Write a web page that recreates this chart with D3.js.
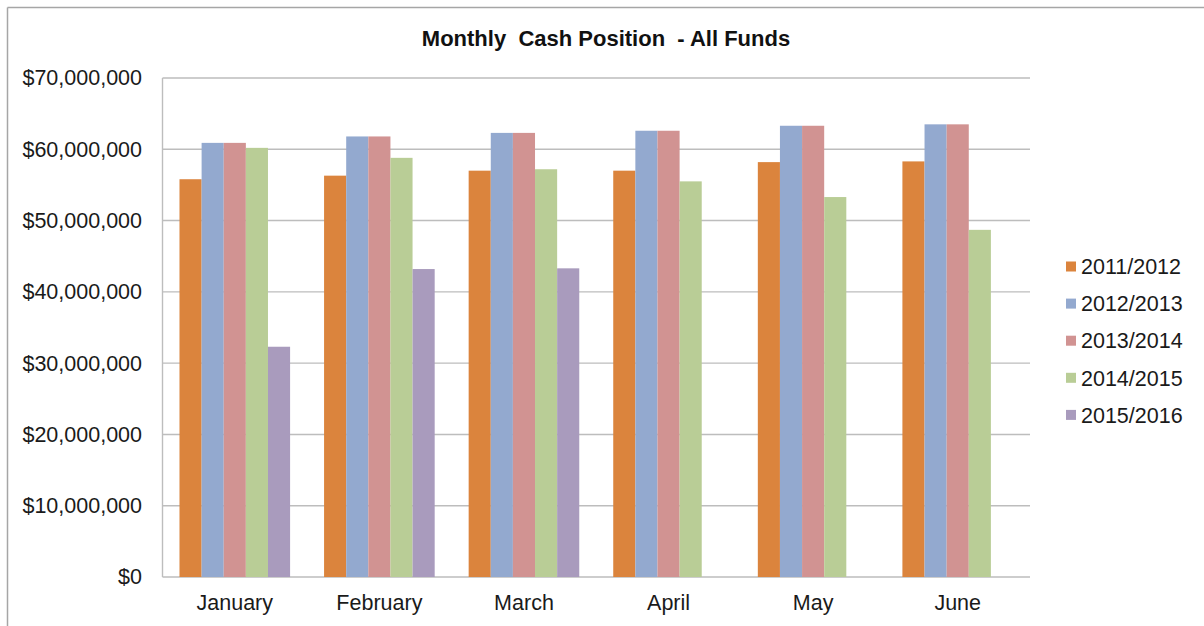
<!DOCTYPE html>
<html>
<head>
<meta charset="utf-8">
<script src="https://cdn.jsdelivr.net/npm/d3@7"></script>
<style>
  html, body { margin: 0; padding: 0; background: #fff; }
  svg { display: block; font-family: "Liberation Sans", Arial, sans-serif; }
</style>
</head>
<body>
<svg id="chart" width="1204" height="626"></svg>
<script>
const title = "Monthly  Cash Position  - All Funds";
const months = ["January", "February", "March", "April", "May", "June"];
const seriesNames = ["2011/2012", "2012/2013", "2013/2014", "2014/2015", "2015/2016"];
const seriesColors = ["#DB843D", "#93A9CF", "#D19392", "#B9CD96", "#A99BBD"];
const s2011 = [55800000, 56300000, 57000000, 57000000, 58200000, 58300000];
const s2012 = [60900000, 61800000, 62300000, 62600000, 63300000, 63500000];
const s2013 = [60900000, 61800000, 62300000, 62600000, 63300000, 63500000];
const s2014 = [60200000, 58800000, 57200000, 55500000, 53300000, 48700000];
const s2015 = [32300000, 43200000, 43300000, null, null, null];
const yTicks = [0, 10000000, 20000000, 30000000, 40000000, 50000000, 60000000, 70000000];

const seriesValues = [s2011, s2012, s2013, s2014, s2015];

const svg = d3.select("#chart");
const plot = { left: 162.5, right: 1030, top: 78, bottom: 577 };

// frame
svg.append("line").attr("x1", 7.5).attr("x2", 1204).attr("y1", 7.5).attr("y2", 7.5)
  .attr("stroke", "#a6a6a6").attr("stroke-width", 1.5);
svg.append("line").attr("x1", 7.5).attr("x2", 7.5).attr("y1", 7.5).attr("y2", 626)
  .attr("stroke", "#a6a6a6").attr("stroke-width", 1.5);

const x0 = d3.scaleBand().domain(months).range([plot.left, plot.right])
  .paddingInner(0.235).paddingOuter(0.1175);
const x1 = d3.scaleBand().domain(seriesNames).range([0, x0.bandwidth()]);
const y = d3.scaleLinear().domain([0, 70000000]).range([plot.bottom, plot.top]);

// gridlines
svg.append("g").selectAll("line").data(yTicks).join("line")
  .attr("x1", plot.left).attr("x2", plot.right)
  .attr("y1", d => y(d)).attr("y2", d => y(d))
  .attr("stroke", "#bdbdbd").attr("stroke-width", 1.4);

// left axis line
svg.append("line").attr("x1", plot.left).attr("x2", plot.left)
  .attr("y1", plot.top).attr("y2", plot.bottom)
  .attr("stroke", "#bdbdbd").attr("stroke-width", 1.4);

// bars
const data = [];
months.forEach((m, i) => {
  seriesNames.forEach((s, j) => {
    const v = seriesValues[j][i];
    if (v != null) data.push({ m, s, v, c: seriesColors[j] });
  });
});
svg.append("g").selectAll("rect").data(data).join("rect")
  .attr("x", d => x0(d.m) + x1(d.s))
  .attr("width", x1.bandwidth())
  .attr("y", d => y(d.v))
  .attr("height", d => y(0) - y(d.v))
  .attr("fill", d => d.c);

// y axis labels
const yAxis = d3.axisLeft(y).tickValues(yTicks).tickSize(0).tickPadding(0)
  .tickFormat(d => "$" + d3.format(",")(d));
const gy = svg.append("g").attr("transform", `translate(142,0)`).call(yAxis);
gy.select(".domain").remove();
gy.selectAll("text").attr("font-size", "21.5px").attr("fill", "#1a1a1a")
  .attr("font-family", "'Liberation Sans', Arial, sans-serif");

// x axis labels
const xAxis = d3.axisBottom(x0).tickSize(0).tickPadding(0);
const gx = svg.append("g").attr("transform", `translate(0,${plot.bottom})`).call(xAxis);
gx.select(".domain").remove();
gx.selectAll("text").attr("font-size", "21.5px").attr("fill", "#1a1a1a")
  .attr("dy", null).attr("y", 33)
  .attr("font-family", "'Liberation Sans', Arial, sans-serif");

// title
svg.append("text").attr("x", 606).attr("y", 46).attr("text-anchor", "middle")
  .attr("font-size", "22px").attr("font-weight", "bold").attr("fill", "#111")
  .attr("xml:space", "preserve").style("white-space", "pre")
  .text(title);

// legend
const legend = svg.append("g").selectAll("g").data(seriesNames).join("g")
  .attr("transform", (d, i) => `translate(1066, ${266.5 + i * 37.1})`);
legend.append("rect").attr("x", 0).attr("y", -5).attr("width", 10).attr("height", 10)
  .attr("fill", (d, i) => seriesColors[i]);
legend.append("text").attr("x", 15).attr("y", 0).attr("dy", "0.36em")
  .attr("font-size", "21.5px").attr("fill", "#1a1a1a").text(d => d);
</script>
</body>
</html>
